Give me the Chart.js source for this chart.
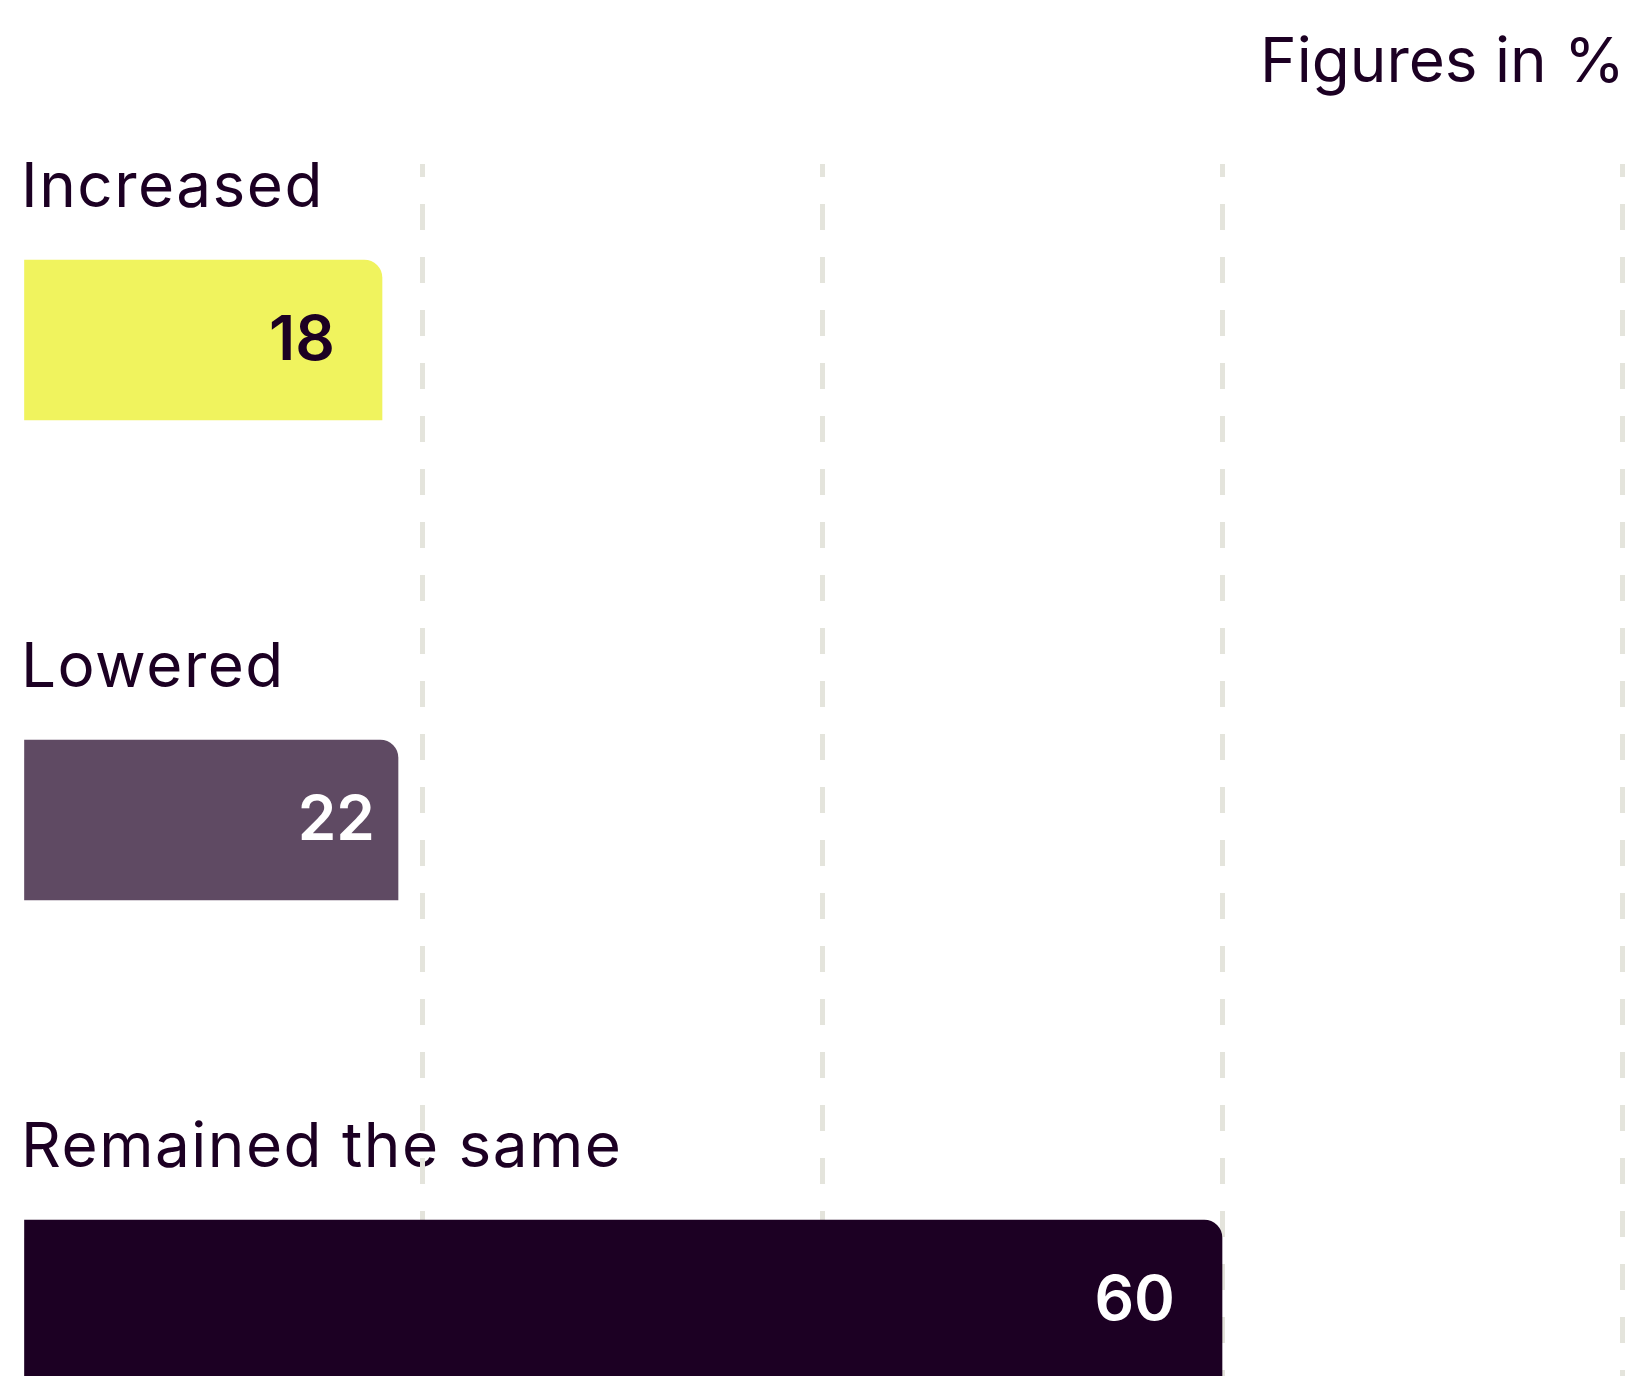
<!DOCTYPE html>
<html>
<head>
<meta charset="utf-8">
<script src="https://cdn.jsdelivr.net/npm/chart.js@4"></script>
<style>
  html, body { margin: 0; padding: 0; background: #ffffff; }
  canvas { display: block; }
</style>
</head>
<body>
<canvas id="c" width="1626" height="1376"></canvas>
<script>
// ---- data ----
const categories = ['Increased', 'Lowered', 'Remained the same'];
const barValues = [18, 18.8, 60];          // bar lengths as drawn in the picture
const valueLabels = ['18', '22', '60'];    // numbers printed on the bars
const xTicks = [0, 20, 40, 60, 80];
const unitNote = 'Figures in %';

// ---- styles ----
const INK = '#1c0023';
const barColors = ['#f0f35e', '#5f4a63', '#1c0023'];
const labelColors = [INK, '#ffffff', '#ffffff'];
const labelInset = [47, 23, 47];
const GRID = '#e4e4dc';
const FONT = 'Inter, "Liberation Sans", Arial, sans-serif';

const textPlugin = {
  id: 'texts',
  beforeDraw(chart) {
    const ctx = chart.ctx;
    const y = chart.scales.y;
    const area = chart.chartArea;
    ctx.save();
    ctx.fillStyle = INK;
    ctx.font = '400 62px ' + FONT;
    ctx.textAlign = 'left';
    ctx.textBaseline = 'alphabetic';
    ctx.letterSpacing = '1.5px';
    categories.forEach((c, i) => {
      ctx.fillText(c, area.left - 1, y.getPixelForValue(i) - 133);
    });
    ctx.letterSpacing = '0px';
    ctx.textAlign = 'right';
    ctx.fillText(unitNote, area.right + 3, 82);
    ctx.restore();
  },
  afterDatasetsDraw(chart) {
    const ctx = chart.ctx;
    const meta = chart.getDatasetMeta(0);
    ctx.save();
    ctx.font = '600 62px ' + FONT;
    ctx.textAlign = 'right';
    ctx.textBaseline = 'alphabetic';
    meta.data.forEach((bar, i) => {
      ctx.fillStyle = labelColors[i];
      ctx.fillText(valueLabels[i], bar.x - labelInset[i], bar.y + 20);
    });
    ctx.restore();
  }
};

new Chart(document.getElementById('c'), {
  type: 'bar',
  data: {
    datasets: [{
      data: categories.map((c, i) => ({ x: barValues[i], y: i })),
      backgroundColor: barColors,
      borderWidth: 0,
      borderRadius: { topLeft: 0, topRight: 18, bottomRight: 0, bottomLeft: 0 },
      borderSkipped: 'start',
      barThickness: 160
    }]
  },
  options: {
    indexAxis: 'y',
    responsive: false,
    animation: false,
    devicePixelRatio: 1,
    layout: { padding: { left: 22, right: 4, top: 164, bottom: 0 } },
    plugins: {
      legend: { display: false },
      tooltip: { enabled: false },
      title: { display: false }
    },
    scales: {
      x: {
        type: 'linear',
        min: xTicks[0],
        max: xTicks[xTicks.length - 1],
        offset: false,
        afterBuildTicks(scale) { scale.ticks = xTicks.map(v => ({ value: v })); },
        ticks: { display: false },
        grid: {
          drawTicks: false,
          offset: false,
          lineWidth: 5,
          color: (ctx) => (ctx.tick && ctx.tick.value === 0) ? 'rgba(0,0,0,0)' : GRID
        },
        border: { display: false, dash: [26, 27], dashOffset: 13 }
      },
      y: {
        type: 'linear',
        display: false,
        reverse: true,
        offset: false,
        grid: { offset: false },
        min: -0.3667,
        max: 2.1583
      }
    }
  },
  plugins: [textPlugin]
});
</script>
</body>
</html>
